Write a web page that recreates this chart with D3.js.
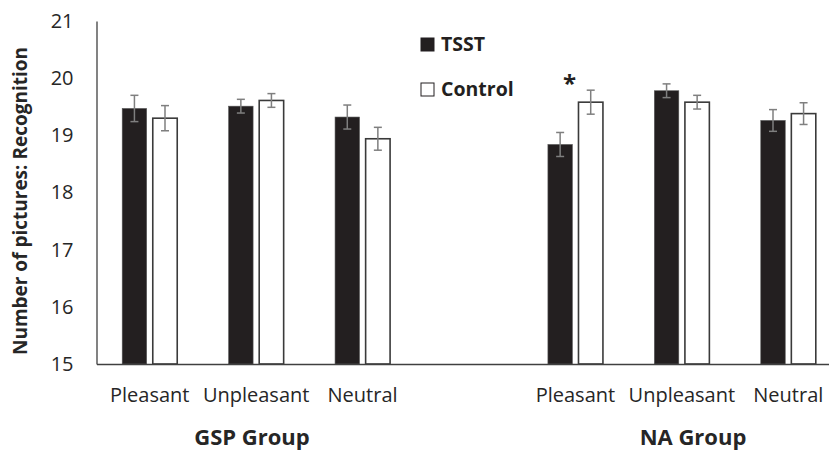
<!DOCTYPE html>
<html>
<head>
<meta charset="utf-8">
<script src="https://cdn.jsdelivr.net/npm/d3@7"></script>
<style>
  body { margin: 0; background: #fff; }
  svg { display: block; font-family: 'Open Sans', sans-serif; }
  .axis path { stroke: #404040; stroke-width: 1.3; }
  .axis text { fill: #262626; font-family: 'Open Sans', sans-serif; font-size: 20px; }
</style>
</head>
<body>
<svg id="chart" width="829" height="452"></svg>
<script>
// 7 slots: GSP x3, empty spacer, NA x3
const categories = ['Pleasant', 'Unpleasant', 'Neutral', '', 'Pleasant', 'Unpleasant', 'Neutral']
const series = ['TSST', 'Control']
const tsstMeans = [19.47, 19.51, 19.32, null, 18.84, 19.78, 19.26]
const controlMeans = [19.30, 19.61, 18.94, null, 19.58, 19.58, 19.38]
const tsstErr = [0.23, 0.12, 0.21, null, 0.21, 0.12, 0.19]
const controlErr = [0.22, 0.12, 0.20, null, 0.21, 0.12, 0.19]
const groups = ['GSP Group', 'NA Group']
const yTicks = [15, 16, 17, 18, 19, 20, 21]

const svg = d3.select('#chart')

const idx = categories.map((d, i) => i)
const gapWidth = 0.483
const x0 = d3.scaleBand()
  .domain(idx)
  .range([96.5, 841.5])
  .paddingInner(gapWidth)
  .paddingOuter(gapWidth / 2)
const x1 = d3.scaleBand()
  .domain(series)
  .range([0, x0.bandwidth()])
  .paddingInner(0.2)
const y = d3.scaleLinear().domain([15, 21]).range([364, 21])

const rows = []
idx.forEach(i => {
  if (tsstMeans[i] == null) return
  rows.push({ i, s: 'TSST', v: tsstMeans[i], e: tsstErr[i] })
  rows.push({ i, s: 'Control', v: controlMeans[i], e: controlErr[i] })
})

// bars
svg.append('g')
  .selectAll('rect')
  .data(rows)
  .enter()
  .append('rect')
  .attr('x', d => x0(d.i) + x1(d.s))
  .attr('y', d => y(d.v))
  .attr('width', x1.bandwidth())
  .attr('height', d => y(15) - y(d.v))
  .attr('fill', d => d.s === 'TSST' ? '#231f20' : '#fff')
  .attr('stroke', d => d.s === 'TSST' ? '#555' : '#3a3a3a')
  .attr('stroke-width', d => d.s === 'TSST' ? 0.6 : 1.6)

// error bars
const eb = svg.append('g')
  .attr('stroke', '#7f7f7f')
  .attr('stroke-width', 1.5)
  .selectAll('g')
  .data(rows)
  .enter()
  .append('g')
  .attr('transform', d => 'translate(' + (x0(d.i) + x1(d.s) + x1.bandwidth() / 2) + ',0)')
eb.append('line')
  .attr('y1', d => y(d.v + d.e))
  .attr('y2', d => y(d.v - d.e))
eb.append('line')
  .attr('x1', -4).attr('x2', 4)
  .attr('y1', d => y(d.v + d.e)).attr('y2', d => y(d.v + d.e))
eb.append('line')
  .attr('x1', -4).attr('x2', 4)
  .attr('y1', d => y(d.v - d.e)).attr('y2', d => y(d.v - d.e))

// axes
svg.append('g')
  .attr('class', 'axis')
  .attr('transform', 'translate(96.5,0)')
  .call(d3.axisLeft(y).tickValues(yTicks).tickFormat(d3.format('d')).tickSize(0).tickSizeOuter(0).tickPadding(23))

svg.append('g')
  .attr('class', 'axis')
  .attr('transform', 'translate(0,364)')
  .call(d3.axisBottom(x0).tickSize(0).tickSizeOuter(0).tickPadding(24).tickFormat(i => categories[i]))

// group labels
svg.selectAll('.group')
  .data(groups)
  .enter()
  .append('text')
  .attr('class', 'group')
  .attr('x', (d, i) => i === 0 ? 252 : 693)
  .attr('y', 445)
  .attr('text-anchor', 'middle')
  .style('font-size', '22px')
  .style('font-weight', 'bold')
  .attr('fill', '#262626')
  .text(d => d)

// y label
svg.append('text')
  .attr('transform', 'translate(27,201) rotate(-90)')
  .attr('text-anchor', 'middle')
  .style('font-size', '19px')
  .style('font-weight', 'bold')
  .attr('fill', '#262626')
  .text('Number of pictures: Recognition')

// legend
const legend = svg.selectAll('.legend')
  .data(series)
  .enter()
  .append('g')
  .attr('class', 'legend')
  .attr('transform', (d, i) => 'translate(421,' + (38 + i * 45) + ')')
legend.append('rect')
  .attr('width', 13).attr('height', 13)
  .attr('fill', d => d === 'TSST' ? '#231f20' : '#fff')
  .attr('stroke', '#231f20')
  .attr('stroke-width', 1)
legend.append('text')
  .attr('x', 20).attr('y', 13)
  .style('font-size', '19.5px')
  .style('font-weight', 'bold')
  .attr('fill', '#231f20')
  .text(d => d)

// significance marker
svg.append('text')
  .attr('x', x0(4) + x1('Control') - 9)
  .attr('y', 92)
  .attr('text-anchor', 'middle')
  .style('font-size', '24px')
  .style('font-weight', 'bold')
  .attr('fill', '#231f20')
  .text('*')
</script>
</body>
</html>
